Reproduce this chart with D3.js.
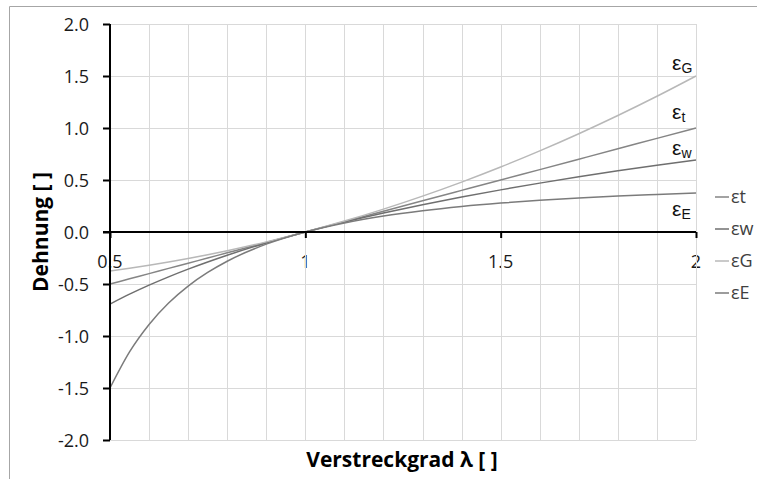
<!DOCTYPE html>
<html>
<head>
<meta charset="utf-8">
<script src="https://cdn.jsdelivr.net/npm/d3@7"></script>
<style>
  body { margin: 0; background: #fff; }
  svg { display: block; }
</style>
</head>
<body>
<svg id="chart" width="757" height="479"></svg>
<script>
// Werte
const lambda = [0.5, 0.55, 0.6, 0.65, 0.7, 0.75, 0.8, 0.9, 1.0, 1.1, 1.2, 1.3, 1.4, 1.5, 1.6, 1.7, 1.8, 1.9, 2.0];
const epsT = [-0.5, -0.45, -0.4, -0.35, -0.3, -0.25, -0.2, -0.1, 0, 0.1, 0.2, 0.3, 0.4, 0.5, 0.6, 0.7, 0.8, 0.9, 1.0];
const epsW = [-0.693, -0.598, -0.511, -0.431, -0.357, -0.288, -0.223, -0.105, 0, 0.095, 0.182, 0.262, 0.336, 0.405, 0.47, 0.531, 0.588, 0.642, 0.693];
const epsG = [-0.375, -0.349, -0.32, -0.289, -0.255, -0.219, -0.18, -0.095, 0, 0.105, 0.22, 0.345, 0.48, 0.625, 0.78, 0.945, 1.12, 1.305, 1.5];
const epsE = [-1.5, -1.153, -0.889, -0.683, -0.52, -0.389, -0.281, -0.117, 0, 0.087, 0.153, 0.204, 0.245, 0.278, 0.305, 0.327, 0.346, 0.361, 0.375];

const seriesNames = ["εt", "εw", "εG", "εE"];
const seriesColors = ["#858585", "#6f6f6f", "#b8b8b8", "#7b7b7b"];
const xTickLabels = ["0.5", "1", "1.5", "2"];
const yTicks = [-2, -1.5, -1, -0.5, 0, 0.5, 1, 1.5, 2];

const series = [epsT, epsW, epsG, epsE];

const svg = d3.select("#chart");

// Rahmen (nur oben und links sichtbar)
svg.append("path")
    .attr("d", "M9.5,479 V6.5 H757")
    .attr("fill", "none")
    .attr("stroke", "#a6a6a6")
    .attr("stroke-width", 1);

const x = d3.scaleLinear().domain([0.5, 2]).range([110, 696]);
const y = d3.scaleLinear().domain([-2, 2]).range([440, 24]);

// x-Beschriftung unterhalb der Nulllinie (vor dem Gitter, wie im Original)
svg.append("g")
    .selectAll("text")
    .data(xTickLabels)
    .enter().append("text")
    .attr("x", d => x(+d))
    .attr("y", y(0) + 36)
    .attr("text-anchor", "middle")
    .attr("font-family", "Open Sans, sans-serif")
    .attr("font-size", 18)
    .attr("fill", "#1a1a1a")
    .text(d => d);

// Gitterlinien
const grid = svg.append("g")
    .attr("stroke", "#d9d9d9")
    .attr("stroke-width", 1);

grid.selectAll("line.v")
    .data(d3.range(6, 21).map(i => i / 10))
    .enter().append("line")
    .attr("x1", d => Math.round(x(d)) + 0.5)
    .attr("x2", d => Math.round(x(d)) + 0.5)
    .attr("y1", y(2))
    .attr("y2", y(-2));

grid.selectAll("line.h")
    .data(yTicks)
    .enter().append("line")
    .attr("x1", x(0.5))
    .attr("x2", x(2))
    .attr("y1", d => Math.round(y(d)) + 0.5)
    .attr("y2", d => Math.round(y(d)) + 0.5);

// Kurven
const line = d3.line()
    .x((d, i) => x(lambda[i]))
    .y(d => y(d))
    .curve(d3.curveMonotoneX);

svg.append("g")
    .attr("fill", "none")
    .attr("stroke-width", 1.5)
    .selectAll("path")
    .data(series)
    .enter().append("path")
    .attr("stroke", (d, i) => seriesColors[i])
    .attr("d", line);

// Achsen
const yAxis = d3.axisLeft(y).tickValues(yTicks).tickSize(7).tickFormat(d3.format(".1f"));
const gy = svg.append("g")
    .attr("transform", `translate(${x(0.5)},0)`)
    .call(yAxis);
gy.select(".domain").attr("stroke", "#000").attr("stroke-width", 2)
    .attr("d", `M0,${y(2)}V${y(-2)}`);
gy.selectAll(".tick line").attr("stroke", "#000").attr("stroke-width", 2);
gy.selectAll(".tick text")
    .attr("x", -21)
    .attr("dy", "0.36em")
    .attr("font-family", "Open Sans, sans-serif")
    .attr("font-size", 18)
    .attr("fill", "#1a1a1a")
    .text(d => d === 0 ? "0.0" : d3.format(".1f")(d).replace("−", "-"));

const xAxis = d3.axisBottom(x).tickValues([0.5, 1, 1.5, 2]).tickSize(6).tickFormat("");
const gx = svg.append("g")
    .attr("transform", `translate(0,${y(0)})`)
    .call(xAxis);
gx.select(".domain").attr("stroke", "#000").attr("stroke-width", 2)
    .attr("d", `M${x(0.5) - 7},0H${x(2)}`);
gx.selectAll(".tick line").attr("stroke", "#000").attr("stroke-width", 2);

// Achsentitel
svg.append("text")
    .attr("transform", `translate(48,${y(0)}) rotate(-90)`)
    .attr("text-anchor", "middle")
    .attr("font-family", "Open Sans, sans-serif")
    .attr("font-weight", "bold")
    .attr("font-size", 21)
    .attr("fill", "#000")
    .text("Dehnung [ ]");

svg.append("text")
    .attr("x", 402)
    .attr("y", 467)
    .attr("text-anchor", "middle")
    .attr("font-family", "Open Sans, sans-serif")
    .attr("font-weight", "bold")
    .attr("font-size", 21)
    .attr("fill", "#000")
    .text("Verstreckgrad λ [ ]");

// Kurvenbeschriftungen
const curveLabels = [
    { sym: "t", yb: 119 },
    { sym: "w", yb: 155 },
    { sym: "G", yb: 70 },
    { sym: "E", yb: 216 }
];
const cl = svg.append("g")
    .attr("font-family", "Liberation Sans, Arial, sans-serif")
    .attr("fill", "#111");
curveLabels.forEach(d => {
    const t = cl.append("text")
        .attr("x", 672)
        .attr("y", d.yb)
        .attr("font-size", 21);
    t.append("tspan").text("ε");
    t.append("tspan").attr("dy", 3).attr("font-size", 14).text(d.sym);
});

// Legende
const legend = svg.append("g")
    .selectAll("g")
    .data(seriesNames)
    .enter().append("g")
    .attr("transform", (d, i) => `translate(715,${197 + i * 32})`);
legend.append("line")
    .attr("x1", 0).attr("x2", 14)
    .attr("stroke", (d, i) => seriesColors[i])
    .attr("stroke-width", 1.5);
legend.append("text")
    .attr("x", 16)
    .attr("dy", "0.35em")
    .attr("font-family", "Open Sans, sans-serif")
    .attr("font-size", 18)
    .attr("fill", "#404040")
    .text(d => d);
</script>
</body>
</html>
